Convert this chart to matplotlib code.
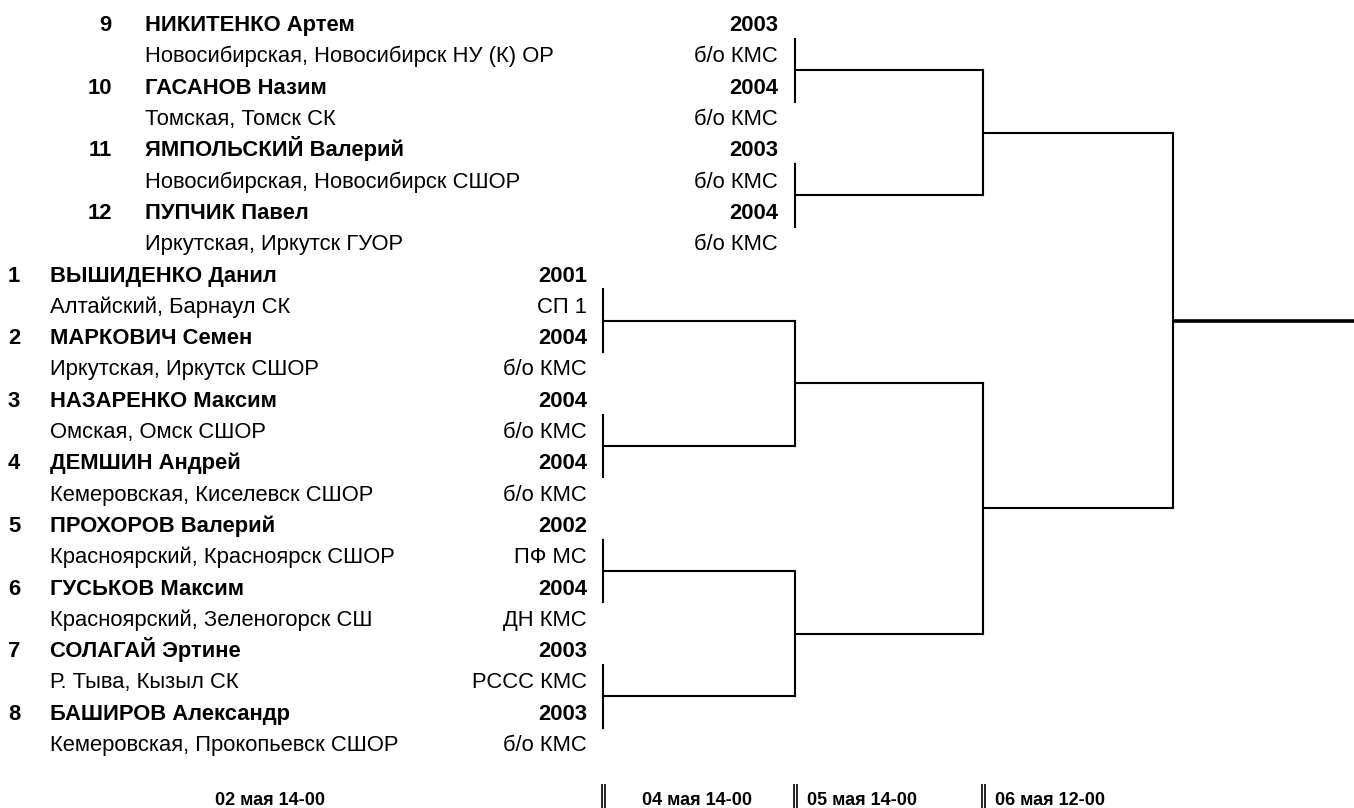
import matplotlib
matplotlib.use('Agg')
import matplotlib.pyplot as plt

# Participants in the order they appear in the draw (top block, then bottom block)
seeds = [9, 10, 11, 12, 1, 2, 3, 4, 5, 6, 7, 8]
names = ['НИКИТЕНКО Артем', 'ГАСАНОВ Назим', 'ЯМПОЛЬСКИЙ Валерий', 'ПУПЧИК Павел',
         'ВЫШИДЕНКО Данил', 'МАРКОВИЧ Семен', 'НАЗАРЕНКО Максим', 'ДЕМШИН Андрей',
         'ПРОХОРОВ Валерий', 'ГУСЬКОВ Максим', 'СОЛАГАЙ Эртине', 'БАШИРОВ Александр']
clubs = ['Новосибирская, Новосибирск НУ (К) ОР', 'Томская, Томск СК',
         'Новосибирская, Новосибирск СШОР', 'Иркутская, Иркутск ГУОР',
         'Алтайский, Барнаул СК', 'Иркутская, Иркутск СШОР', 'Омская, Омск СШОР',
         'Кемеровская, Киселевск СШОР', 'Красноярский, Красноярск СШОР',
         'Красноярский, Зеленогорск СШ', 'Р. Тыва, Кызыл СК',
         'Кемеровская, Прокопьевск СШОР']
years = [2003, 2004, 2003, 2004, 2001, 2004, 2004, 2004, 2002, 2004, 2003, 2003]
ranks = ['б/о КМС', 'б/о КМС', 'б/о КМС', 'б/о КМС', 'СП 1', 'б/о КМС',
         'б/о КМС', 'б/о КМС', 'ПФ МС', 'ДН КМС', 'РССС КМС', 'б/о КМС']
sessions = ['02 мая 14-00', '04 мая 14-00', '05 мая 14-00', '06 мая 12-00']

plt.rcParams['font.family'] = ['Liberation Sans', 'DejaVu Sans']

W, H = 1354, 808
row0, row_h = 23.3, 31.3          # pixel centre of first row, row pitch

fig = plt.figure(figsize=(W / 100, H / 100), dpi=100)
ax = fig.add_axes([0, 0, 1, 1])
ax.set_xlim(0, W)
ax.set_ylim((H - row0) / row_h, -row0 / row_h)
ax.axis('off')

fs = 15.8
lw = 1.5
# baseline sits about half a cap height below the row centre
base = 0.358 * fs * 100 / 72 / row_h

# text columns: (number x, number align, name x, right edge x)
top_cols = (112, 'right', 145, 778)
bot_cols = (8, 'left', 50, 587)

for k in range(len(names)):
    num_x, num_ha, name_x, right_x = top_cols if k < 4 else bot_cols
    r = 2 * k + base
    ax.text(num_x, r, str(seeds[k]), ha=num_ha, va='baseline', fontsize=fs, fontweight='bold')
    ax.text(name_x, r, names[k], ha='left', va='baseline', fontsize=fs, fontweight='bold')
    ax.text(right_x, r, str(years[k]), ha='right', va='baseline', fontsize=fs, fontweight='bold')
    ax.text(name_x, r + 1, clubs[k], ha='left', va='baseline', fontsize=fs)
    ax.text(right_x, r + 1, ranks[k], ha='right', va='baseline', fontsize=fs)


def first_round(idx, x0, x1):
    mids = []
    for a in idx[::2]:
        y1, y2 = 2 * a + 1, 2 * a + 2
        ax.plot([x0, x0], [y1 - 0.5, y2 + 0.5], color='black', lw=lw)
        m = (y1 + y2) / 2
        ax.plot([x0, x1], [m, m], color='black', lw=lw)
        mids.append(m)
    return mids


def next_round(mids, x0, x1):
    out = []
    for m1, m2 in zip(mids[::2], mids[1::2]):
        ax.plot([x0, x0], [m1, m2], color='black', lw=lw)
        m = (m1 + m2) / 2
        ax.plot([x0, x1], [m, m], color='black', lw=lw)
        out.append(m)
    return out


# top block (seeds 9-12)
top = first_round(list(range(0, 4)), 795, 983)
top = next_round(top, 983, 1173)

# bottom block (seeds 1-8)
bot = first_round(list(range(4, 12)), 603, 795)
bot = next_round(bot, 795, 983)
bot = next_round(bot, 983, 1173)

# final
ax.plot([1173, 1173], [top[0], bot[0]], color='black', lw=lw)
fm = (top[0] + bot[0]) / 2
ax.plot([1173, W], [fm, fm], color='black', lw=2.6, solid_capstyle='butt')


# session labels along the bottom
def py(p):
    return (p - row0) / row_h


sess_x = [270, 697, 862, 1050]
for x, s in zip(sess_x, sessions):
    ax.text(x, py(805), s, ha='center', va='baseline', fontsize=13, fontweight='bold')

for bx in [603, 795, 983]:
    for dx in (-1.5, 1.5):
        ax.plot([bx + dx, bx + dx], [py(784), py(808)], color='black', lw=1.2,
                solid_capstyle='butt')

fig.savefig('out.png', dpi=100)
